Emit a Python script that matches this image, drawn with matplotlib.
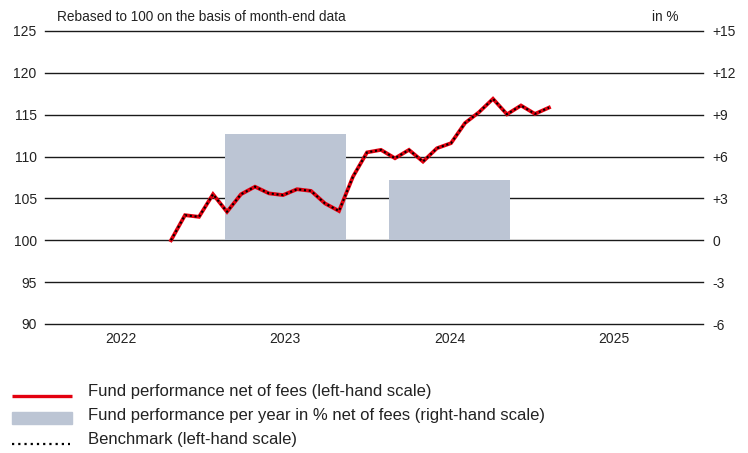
import matplotlib
matplotlib.use("Agg")
import matplotlib.pyplot as plt
import numpy as np
from matplotlib.lines import Line2D
from matplotlib.patches import Rectangle

# ---- data ----
fund = [100.0, 103.0, 102.8, 105.5, 103.4, 105.5, 106.4, 105.6, 105.4, 106.1,
        105.9, 104.4, 103.5, 107.6, 110.5, 110.8, 109.8, 110.8, 109.4, 111.0,
        111.6, 114.0, 115.3, 116.9, 115.05, 116.1, 115.1, 115.85]
benchmark = [100.0, 103.0, 102.8, 105.5, 103.4, 105.5, 106.4, 105.6, 105.4, 106.1,
             105.9, 104.4, 103.5, 107.6, 110.5, 110.8, 109.8, 110.8, 109.4, 111.0,
             111.6, 114.0, 115.3, 116.9, 115.05, 116.1, 115.1, 115.85]
bar_years = [2023, 2024]
bar_values = [7.6, 4.3]
year_labels = [2022, 2023, 2024, 2025]
left_ticks = [90, 95, 100, 105, 110, 115, 120, 125]
right_ticks = [-6, -3, 0, 3, 6, 9, 12, 15]
right_labels = ["-6", "-3", "0", "+3", "+6", "+9", "+12", "+15"]

# ---- layout ----
W, H = 748, 453
FONT = ["Liberation Sans", "DejaVu Sans"]
plt.rcParams["font.family"] = FONT
TXT = "#222222"
RED = "#e3000f"
BARC = "#bcc5d4"

fig = plt.figure(figsize=(W / 100, H / 100), dpi=100)
ax_l, ax_r, ax_t, ax_b = 45, 703, 31, 324
ax = fig.add_axes([ax_l / W, 1 - ax_b / H, (ax_r - ax_l) / W, (ax_b - ax_t) / H])
ax2 = ax.twinx()

line_start = 2022.766
step = 0.0851
xs = line_start + step * np.arange(len(fund))

# bars and gridlines on right scale
label_off = 0.46
bw = 0.736
ax2.set_ylim(-6, 15)
for t in right_ticks:
    ax2.axhline(t, color="#1a1a1a", lw=1.0, zorder=1, clip_on=False)
ax2.bar([y + label_off for y in bar_years], bar_values, width=bw, color=BARC, zorder=2)
ax2.set_yticks(right_ticks)
ax2.set_yticklabels(right_labels)

# lines on left scale, drawn above bars
ax.set_zorder(ax2.get_zorder() + 1)
ax.patch.set_visible(False)
ax.plot(xs, fund, color=RED, lw=2.7, solid_joinstyle="miter", zorder=3)
ax.plot(xs, benchmark, color="black", lw=1.5, linestyle=(0, (1, 1.3)), zorder=4)
ax.set_ylim(90, 125)
ax.set_yticks(left_ticks)
ax.set_xlim(2022, 2026)
ax.set_xticks([y + label_off for y in year_labels])
ax.set_xticklabels([str(y) for y in year_labels])
ax2.set_xlim(2022, 2026)

for a in (ax, ax2):
    for s in a.spines.values():
        s.set_visible(False)
    a.tick_params(length=0, colors=TXT, labelsize=10)
ax.tick_params(axis="y", pad=6)
ax2.tick_params(axis="y", pad=7)
ax.tick_params(axis="x", pad=6)

# header texts
fig.text(57 / W, 1 - 17 / H, "Rebased to 100 on the basis of month-end data",
         ha="left", va="center", fontsize=9.8, color=TXT)
fig.text(678 / W, 1 - 17 / H, "in %", ha="right", va="center", fontsize=9.8, color=TXT)

# legend (manual)
def fx(x):
    return x / W

def fy(y):
    return 1 - y / H

fig.add_artist(Line2D([fx(12), fx(72)], [fy(396), fy(396)], color=RED, lw=2.4,
                      solid_capstyle="butt"))
fig.add_artist(Rectangle((fx(12), fy(423.5)), fx(72) - fx(12), fy(411.5) - fy(423.5),
                         color=BARC, transform=fig.transFigure))
fig.add_artist(Line2D([fx(12), fx(70)], [fy(443.5), fy(443.5)], color="black", lw=1.6,
                      linestyle=(0, (1, 1.8))))
leg_texts = ["Fund performance net of fees (left-hand scale)",
             "Fund performance per year in % net of fees (right-hand scale)",
             "Benchmark (left-hand scale)"]
for t, yb in zip(leg_texts, [396, 420, 444]):
    fig.text(fx(88), fy(yb), t, ha="left", va="baseline", fontsize=12, color=TXT)

fig.savefig("out.png", dpi=100)
